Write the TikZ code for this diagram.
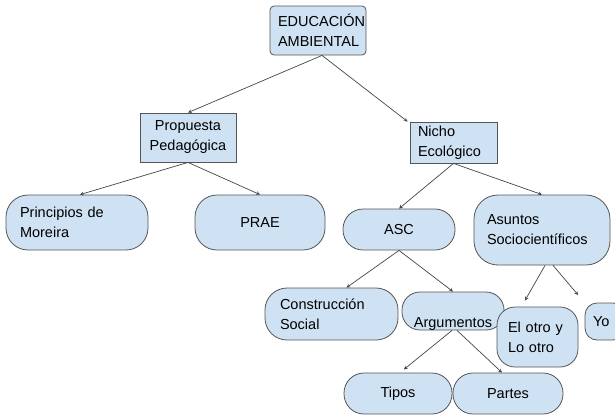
\documentclass[tikz,border=0pt]{standalone}
\usepackage{fontspec}
\setmainfont{Liberation Sans}
\definecolor{boxfill}{HTML}{CFE2F3}
\definecolor{boxline}{HTML}{555555}
\definecolor{arrowline}{HTML}{444444}

\begin{document}
\begin{tikzpicture}[->,>=stealth,x=1pt,y=-1pt,thin,
                    every edge/.style={draw=arrowline,line width=0.7pt}]
  \tikzstyle{box}=[draw=boxline,fill=boxfill,line width=0.8pt,text=black,inner sep=0pt,
                   font=\fontsize{14.5}{20}\selectfont]
  \tikzstyle{pill}=[box,rounded corners=20pt]
  \tikzstyle{lefttext}=[align=left]

  \clip (0,0) rectangle (615,416);

  \node[box,rounded corners=4pt,minimum width=96pt,minimum height=49pt,
        lefttext,text width=80pt]                          (edu)    at (318,30.5)  {EDUCACIÓN\\AMBIENTAL};
  \node[box,minimum width=96pt,minimum height=49pt,align=center] (prop) at (188,137.5) {Propuesta\\Pedagógica};
  \node[box,minimum width=87pt,minimum height=41pt,
        lefttext,text width=71pt]                          (nicho)  at (453.5,142.5) {Nicho\\Ecológico};
  \node[pill,rounded corners=22pt,minimum width=142pt,minimum height=55pt,
        lefttext,text width=114pt]                         (princ)  at (77,222.5)  {Principios de\\Moreira};
  \node[pill,rounded corners=22pt,minimum width=130pt,minimum height=55pt] (prae) at (260,222.5) {PRAE};
  \node[pill,minimum width=112pt,minimum height=41pt]      (asc)    at (399,229.5) {ASC};
  \node[pill,rounded corners=24pt,minimum width=136pt,minimum height=70pt,
        lefttext,text width=110pt]                         (asun)   at (542,230)   {Asuntos\\Sociocientíficos};
  \node[pill,rounded corners=22pt,minimum width=133pt,minimum height=52pt,
        lefttext,text width=103pt]                         (cons)   at (331.5,314) {Construcción\\Social};
  \node[pill,rounded corners=18pt,minimum width=102pt,minimum height=38pt,
        text height=35pt,text depth=3pt]                   (arg)    at (453,311)   {Argumentos};
  \node[pill,rounded corners=18pt,minimum width=81pt,minimum height=60pt,
        lefttext,text width=59pt]                          (otro)   at (537.5,337) {El otro y\\Lo otro};
  \node[pill,rounded corners=12pt,minimum width=40pt,minimum height=37pt,
        lefttext,text width=24pt]                          (yo)     at (605,321.5) {Yo};
  \node[pill,minimum width=108pt,minimum height=41pt]      (tipos)  at (398,393.5) {Tipos};
  \node[pill,minimum width=110pt,minimum height=41pt]      (partes) at (508,393.5) {Partes};

  \path ([xshift=4pt]edu.south)  edge (prop.north)
                                 edge ([xshift=-2pt]nicho.north west)
        (prop.south)             edge ([xshift=3pt]princ.north)
                                 edge (prae.north)
        (nicho.south)            edge (asc.north)
                                 edge (asun.north)
        (asc.south)              edge ([xshift=15pt]cons.north)
                                 edge (arg.north)
        ([xshift=3pt]asun.south) edge[shorten >=7pt] ([xshift=-16pt]otro.north)
        ([xshift=11pt]asun.south) edge[shorten >=10pt] (yo.north west)
        ([xshift=-1pt]arg.south) edge[shorten >=5pt] ([xshift=2pt]tipos.north)
        ([xshift=4pt]arg.south)  edge ([xshift=-6pt]partes.north);
\end{tikzpicture}
\end{document}
